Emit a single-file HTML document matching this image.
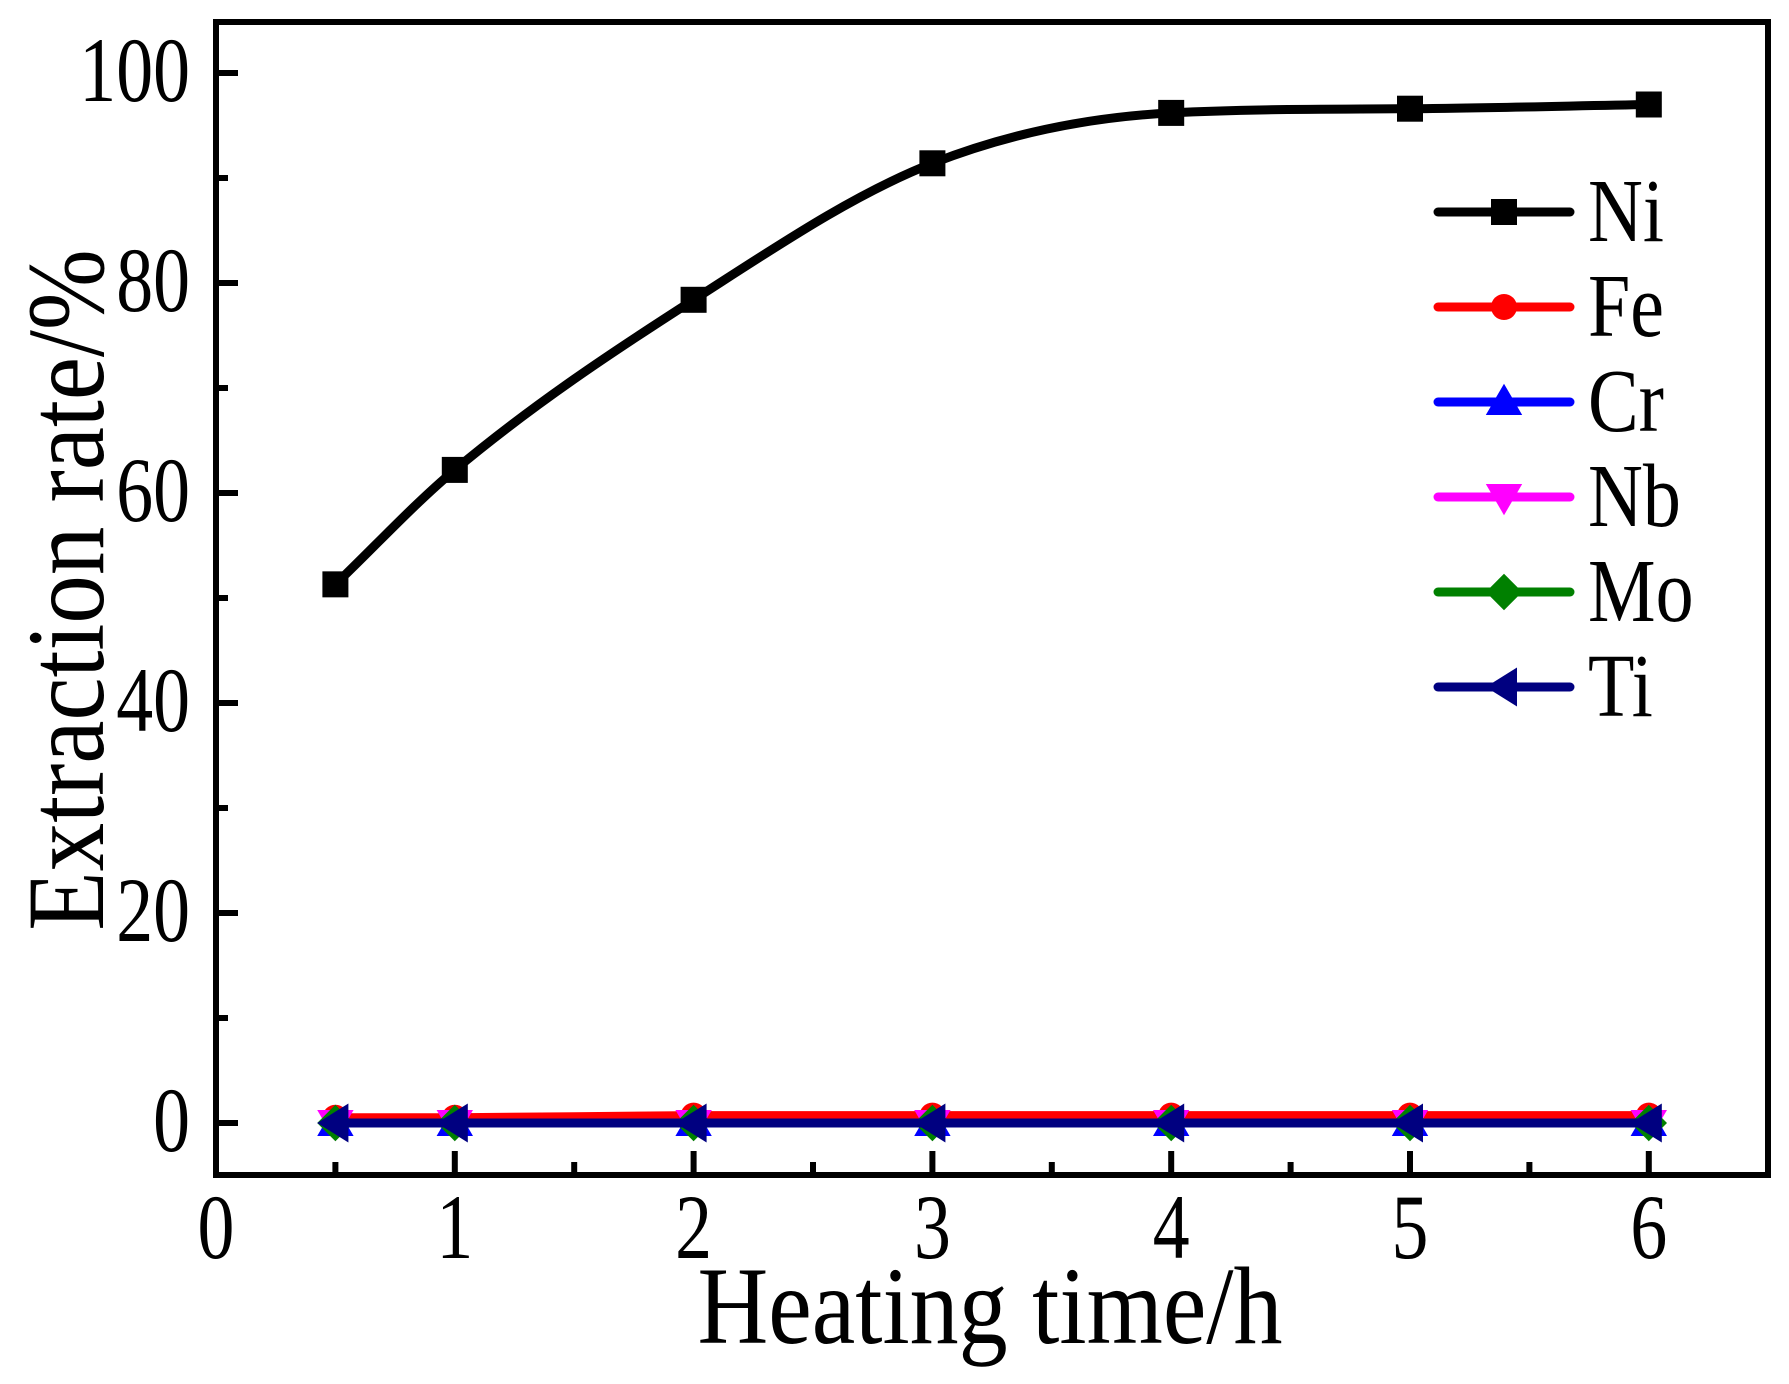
<!DOCTYPE html>
<html><head><meta charset="utf-8"><style>
html,body{margin:0;padding:0;background:#fff;}
svg{display:block;font-family:"Liberation Serif",serif;}
</style></head><body>
<svg id="chart" width="1789" height="1384" viewBox="0 0 1789 1384" xmlns="http://www.w3.org/2000/svg">
<g id="plot"></g>
</svg>
<script>
const xs = [0.5, 1, 2, 3, 4, 5, 6];
const niValues = [51.3, 62.2, 78.4, 91.4, 96.2, 96.6, 97.0];
const feValues = [0.5, 0.5, 0.7, 0.7, 0.7, 0.7, 0.7];
const crValues = [0, 0, 0, 0, 0, 0, 0];
const nbValues = [0, 0, 0, 0, 0, 0, 0];
const moValues = [0, 0, 0, 0, 0, 0, 0];
const tiValues = [0, 0, 0, 0, 0, 0, 0];
const xTicks = [0, 1, 2, 3, 4, 5, 6];
const yTicks = [0, 20, 40, 60, 80, 100];
const seriesNames = ['Ni', 'Fe', 'Cr', 'Nb', 'Mo', 'Ti'];

const NS = 'http://www.w3.org/2000/svg';
const g = document.getElementById('plot');
const L = 216, R = 1768, T = 22, B = 1175;
function sx(v){ return 216 + v * 238.8; }
function sy(v){ return 1123 - v * 10.5; }
function mk(tag, attrs, parent){
  const e = document.createElementNS(NS, tag);
  for (const k in attrs) e.setAttribute(k, attrs[k]);
  (parent || g).appendChild(e);
  return e;
}

let frame = mk('rect', {x:L, y:T, width:R-L, height:B-T, fill:'none', stroke:'#000', 'stroke-width':6});



yTicks.forEach(v => {
  const t = mk('line', {x1:L, x2:L+22, y1:sy(v), y2:sy(v), stroke:'#000', 'stroke-width':6});
  
  
  const m = mk('line', {x1:L, x2:L+12, y1:sy(v+10), y2:sy(v+10), stroke:'#000', 'stroke-width':6});
  
  
  const tx = mk('text', {x:0, y:0, 'font-size':82, 'text-anchor':'end', transform:`translate(190,${sy(v)+28}) scale(0.9,1.12)`});
  tx.textContent = v;
  
  
});

xTicks.forEach(v => {
  const t = mk('line', {x1:sx(v), x2:sx(v), y1:B, y2:B-24, stroke:'#000', 'stroke-width':6});
  
  
  if (v < 6) {
    const m = mk('line', {x1:sx(v+0.5), x2:sx(v+0.5), y1:B, y2:B-13, stroke:'#000', 'stroke-width':6});
    
    
  }
  const tx = mk('text', {x:0, y:0, 'font-size':82, 'text-anchor':'middle', transform:`translate(${sx(v)},1258) scale(0.9,1.12)`});
  tx.textContent = v;
  
  
});

const xt = mk('text', {x:0, y:0, 'font-size':100, 'text-anchor':'middle', transform:'translate(990,1343) scale(0.98,1.1)'});
xt.textContent = 'Heating time/h';


const yt = mk('text', {x:0, y:0, 'font-size':100, 'text-anchor':'middle', transform:'translate(103,590) rotate(-90) scale(0.97,1.1)'});
yt.textContent = 'Extraction rate/%';



function smoothPath(pts){
  const n = pts.length;
  const d = [], m = [];
  for (let i = 0; i < n-1; i++) d.push((pts[i+1][1]-pts[i][1])/(pts[i+1][0]-pts[i][0]));
  m[0] = d[0]; m[n-1] = d[n-2];
  for (let i = 1; i < n-1; i++) m[i] = (d[i-1]*d[i] <= 0) ? 0 : (d[i-1]+d[i])/2;
  for (let i = 0; i < n-1; i++) {
    if (d[i] === 0) { m[i] = 0; m[i+1] = 0; continue; }
    const a = m[i]/d[i], b = m[i+1]/d[i], s = a*a+b*b;
    if (s > 9) { const t = 3/Math.sqrt(s); m[i] = t*a*d[i]; m[i+1] = t*b*d[i]; }
  }
  let p = 'M' + pts[0][0] + ',' + pts[0][1];
  for (let i = 0; i < n-1; i++) {
    const h = (pts[i+1][0]-pts[i][0])/3;
    p += ' C' + (pts[i][0]+h) + ',' + (pts[i][1]+m[i]*h) + ' ' + (pts[i+1][0]-h) + ',' + (pts[i+1][1]-m[i+1]*h) + ' ' + pts[i+1][0] + ',' + pts[i+1][1];
  }
  return p;
}
function marker(type, cx, cy, color, s, parent){
  let e;
  if (type === 'square') e = mk('rect', {x:cx-s, y:cy-s, width:2*s, height:2*s, fill:color}, parent);
  else if (type === 'circle') e = mk('circle', {cx:cx, cy:cy, r:s, fill:color}, parent);
  else if (type === 'up') e = mk('polygon', {points:`${cx},${cy-s*1.4} ${cx-s*1.4},${cy+s} ${cx+s*1.4},${cy+s}`, fill:color}, parent);
  else if (type === 'down') e = mk('polygon', {points:`${cx},${cy+s*1.4} ${cx-s*1.4},${cy-s} ${cx+s*1.4},${cy-s}`, fill:color}, parent);
  else if (type === 'diamond') e = mk('polygon', {points:`${cx},${cy-s*1.4} ${cx+s*1.4},${cy} ${cx},${cy+s*1.4} ${cx-s*1.4},${cy}`, fill:color}, parent);
  else e = mk('polygon', {points:`${cx-s*1.4},${cy} ${cx+s},${cy-s*1.5} ${cx+s},${cy+s*1.5}`, fill:color}, parent);
  return e;
}
const series = [
  {name:'Ni', vals:niValues, color:'#000', m:'square'},
  {name:'Fe', vals:feValues, color:'#ff0000', m:'circle'},
  {name:'Cr', vals:crValues, color:'#0000ff', m:'up'},
  {name:'Nb', vals:nbValues, color:'#ff00ff', m:'down'},
  {name:'Mo', vals:moValues, color:'#008000', m:'diamond'},
  {name:'Ti', vals:tiValues, color:'#000080', m:'left'}
];
series.forEach((s, si) => {
  const grp = mk('g', {});
  
  
  const pts = xs.map((x,i) => [sx(x), sy(s.vals[i])]);
  const p = mk('path', {d:smoothPath(pts), fill:'none', stroke:s.color, 'stroke-width':9, 'stroke-linejoin':'round'}, grp);
  
  
  pts.forEach(pt => {
    const e = marker(s.m, pt[0], pt[1], s.color, 13, grp);
    
    
  });
  const ly = 212 + si * 95;
  const lg = mk('g', {});
  
  
  mk('line', {x1:1438, x2:1570, y1:ly, y2:ly, stroke:s.color, 'stroke-width':9, 'stroke-linecap':'round'}, lg);
  marker(s.m, 1504, ly, s.color, 13, lg);
  const lt = mk('text', {x:0, y:0, 'font-size':80, transform:`translate(1588,${ly+29}) scale(0.95,1.12)`}, lg);
  lt.textContent = seriesNames[si];
});
</script>
</body></html>
